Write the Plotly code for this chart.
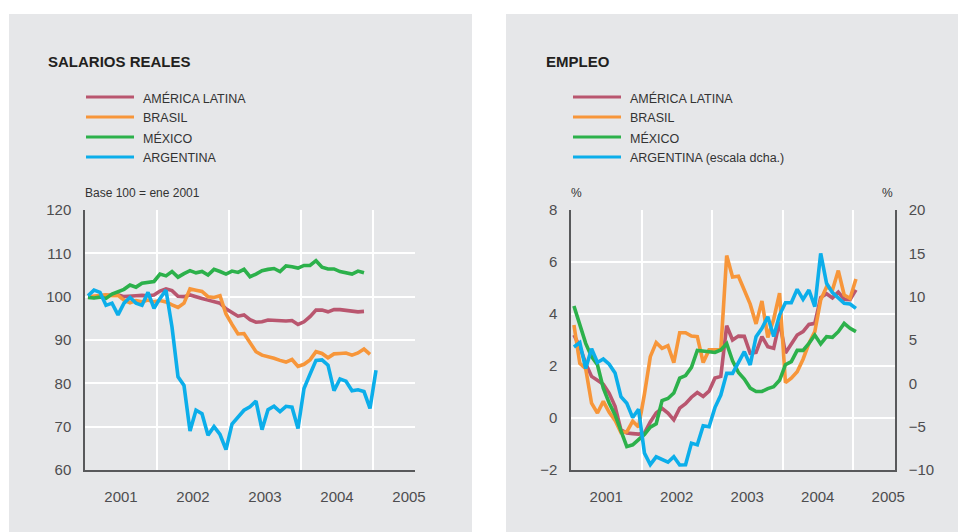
import plotly.graph_objects as go

# ---------------- DATA ----------------
# monthly series, first value = January 2001
sal_america_latina = [100, 99.8, 100.2, 100.2, 100.2, 100.4, 100, 100.2, 100.2, 100.3, 100.2, 100.4,
                      101.3, 101.8, 101.4, 100.1, 100, 100.4, 100.1, 99.6, 99.2, 98.9, 98.5, 97.2,
                      96.3, 95.5, 95.8, 94.7, 94.1, 94.2, 94.6, 94.5, 94.5, 94.4, 94.5, 93.6,
                      94.2, 95.4, 96.9, 96.9, 96.5, 97.0, 97.0, 96.8, 96.5, 96.5, 96.6]
sal_brasil = [100, 100.2, 100.4, 100.4, 100.2, 100.3, 99.2, 98.6, 99.1, 98.8, 99.2, 98.8,
              99.1, 98.8, 98.1, 97.5, 98.5, 101.8, 101.5, 101.2, 100, 99.8, 100.2, 96,
              93.6, 91.4, 91.5, 89.2, 87.3, 86.5, 86.2, 85.8, 85.3, 84.9, 85.5, 83.9,
              84.4, 85.4, 87.3, 86.9, 85.9, 86.8, 86.9, 87.0, 86.5, 87.0, 87.9, 86.7]
sal_mexico = [99.8, 99.7, 99.9, 99.6, 100.6, 101.2, 101.7, 102.7, 102.2, 103.1, 103.3, 103.5,
              105.2, 104.8, 105.8, 104.5, 105.3, 106.0, 105.5, 105.8, 105.0, 106.3, 105.8, 105.2,
              105.9, 105.6, 106.3, 104.6, 105.2, 106.0, 106.3, 106.5, 105.8, 107.1, 106.9, 106.6,
              107.2, 107.2, 108.3, 106.8, 106.4, 106.4, 105.8, 105.6, 105.2, 105.9, 105.5]
sal_argentina = [100.2, 101.5, 101, 98, 98.5, 95.8, 98.5, 99.8, 98.5, 98, 101, 97.3,
                 99.6, 101.5, 93, 81.5, 79.5, 69, 73.8, 73, 68, 70, 68.2, 64.7,
                 70.6, 72.3, 73.8, 74.6, 75.9, 69.3, 73.9, 74.7, 73.5, 74.7, 74.5, 69.6,
                 78.8, 82.1, 85.3, 85.4, 84.2, 78.3, 81, 80.5, 78.3, 78.5, 78.1, 74.2, 83]

emp_america_latina = [3.19, 2.74, 2.1, 1.6, 1.45, 1.3, 0.95, 0.45, -0.46, -0.58, -0.6, -0.62,
                      -0.58, -0.15, 0.19, 0.37, 0.19, -0.07, 0.38, 0.55, 0.8, 0.98, 0.83, 1.03,
                      1.54, 1.6, 3.55, 3.0, 3.15, 3.14, 2.49, 2.52, 3.13, 2.74, 2.68, 3.7,
                      2.5, 2.84, 3.19, 3.32, 3.6, 3.64, 4.63, 4.78, 4.62, 4.84, 4.57, 4.55, 4.93]
emp_brasil = [3.58, 2.1, 1.9, 0.57, 0.19, 0.64, 0.22, -0.09, -0.56, -0.53, -0.12, -0.35,
              0.92, 2.36, 2.9, 2.68, 2.78, 2.13, 3.28, 3.28, 3.15, 3.13, 2.13, 2.62,
              2.62, 2.62, 6.25, 5.42, 5.45, 4.92, 4.38, 3.62, 4.5, 3.1, 3.8, 4.8,
              1.36, 1.53, 1.78, 2.26, 2.87, 3.32, 4.54, 5.05, 4.92, 5.67, 4.73, 4.6, 5.35]
emp_mexico = [4.31, 3.64, 2.87, 2.36, 2.05, 1.15, 0.58, 0.12, -0.45, -1.1, -1.03, -0.81,
              -0.63, -0.35, -0.22, 0.67, 0.75, 0.96, 1.53, 1.63, 1.95, 2.6, 2.56, 2.55,
              2.52, 2.62, 2.86, 2.2, 1.75, 1.5, 1.15, 1.02, 1.02, 1.13, 1.2, 1.45,
              2.05, 2.17, 2.6, 2.6, 2.87, 3.19, 2.85, 3.13, 3.1, 3.32, 3.64, 3.45, 3.32]
emp_argentina = [4.2, 4.7, 1.7, 4.0, 2.4, 2.8, 2.2, 1.2, -1.54, -2.3, -3.95, -3.0,
                 -8.05, -9.38, -8.48, -8.77, -9.1, -8.46, -9.42, -9.4, -6.9, -7.1, -4.9, -5.0,
                 -2.8, -1.35, 1.15, 1.15, 2.35, 3.65, 2.12, 5.38, 6.35, 7.69, 5.4, 7.88,
                 9.3, 9.3, 10.85, 9.69, 10.77, 8.85, 15.0, 11.54, 10.46, 9.81, 9.23, 9.15, 8.65]

series_names = ["AMÉRICA LATINA", "BRASIL", "MÉXICO", "ARGENTINA"]
series_names_emp = ["AMÉRICA LATINA", "BRASIL", "MÉXICO", "ARGENTINA (escala dcha.)"]
year_labels = ["2001", "2002", "2003", "2004", "2005"]
sal_yticks = [60, 70, 80, 90, 100, 110, 120]
emp_yticks = [-2, 0, 2, 4, 6, 8]
emp_y2ticks = [-10, -5, 0, 5, 10, 15, 20]

# ---------------- STYLE ----------------
W, H = 958, 532
COLORS = ["#b9566f", "#f7963a", "#2cb14b", "#0caeea"]
PANEL = "#e6e7e9"
AXC = "#58595b"
TXT = "#333333"
TICK = "#4d4d4f"
FONT = "Liberation Sans, Arial, Helvetica, sans-serif"
LW = 3.6


def px(x):
    return x / W


def py(y):
    return 1 - y / H


def months(n):
    return [2001 + (m + 0.5) / 12 for m in range(n)]


fig = go.Figure()

sal = [sal_america_latina, sal_brasil, sal_mexico, sal_argentina]
for name, vals, c in zip(series_names, sal, COLORS):
    fig.add_trace(go.Scatter(x=months(len(vals)), y=vals, mode="lines", name=name,
                             line=dict(color=c, width=LW), xaxis="x", yaxis="y",
                             showlegend=False))

emp = [emp_america_latina, emp_brasil, emp_mexico]
for name, vals, c in zip(series_names_emp[:3], emp, COLORS[:3]):
    fig.add_trace(go.Scatter(x=months(len(vals)), y=vals, mode="lines", name=name,
                             line=dict(color=c, width=LW), xaxis="x2", yaxis="y2",
                             showlegend=False))
fig.add_trace(go.Scatter(x=months(len(emp_argentina)), y=emp_argentina, mode="lines",
                         name=series_names_emp[3], line=dict(color=COLORS[3], width=LW),
                         xaxis="x2", yaxis="y3", showlegend=False))

ydom = [py(470), py(210)]
year_mid = [2001.5 + i for i in range(len(year_labels))]
year_bounds = [2002, 2003, 2004, 2005]

xcommon = dict(tickmode="array", tickvals=year_mid, ticktext=year_labels, showgrid=False,
               zeroline=False, showline=True, linecolor=AXC, linewidth=1.5, ticks="",
               automargin=False,
               ticklabelstandoff=12, tickfont=dict(size=15, color=TICK, family=FONT),
               minor=dict(tickmode="array", tickvals=year_bounds, showgrid=True,
                          gridcolor="white", gridwidth=2, ticks=""))
ycommon = dict(showgrid=True, gridcolor="white", gridwidth=2, zeroline=False, showline=True,
               linecolor=AXC, linewidth=1.5, ticks="", ticklabelstandoff=9, automargin=False,
               tickfont=dict(size=15, color=TICK, family=FONT))

fig.update_layout(
    width=W, height=H, autosize=False,
    margin=dict(l=0, r=0, t=0, b=0, pad=0, autoexpand=False),
    paper_bgcolor="white", plot_bgcolor=PANEL, showlegend=False,
    font=dict(family=FONT, color=TXT),
    xaxis=dict(domain=[px(85), px(415)], range=[2001, 2001 + 330 / 72], anchor="y", **xcommon),
    yaxis=dict(domain=ydom, range=[60, 120], tickvals=sal_yticks, anchor="x", **ycommon),
    xaxis2=dict(domain=[px(571), px(895)], range=[2001, 2001 + 324 / 70.5], anchor="y2",
                **xcommon),
    yaxis2=dict(domain=ydom, range=[-2, 8], tickvals=emp_yticks, anchor="x2", **ycommon),
    yaxis3=dict(range=[-10, 20], tickvals=emp_y2ticks, overlaying="y2", side="right",
                anchor="x2", showgrid=False, zeroline=False, showline=True, linecolor=AXC,
                linewidth=1.5, ticks="", ticklabelstandoff=9, automargin=False,
                tickfont=dict(size=15, color=TICK, family=FONT)),
)

shapes = [
    dict(type="rect", xref="paper", yref="paper", x0=px(9), x1=px(958), y0=0, y1=py(14),
         fillcolor=PANEL, line=dict(width=0), layer="below"),
    dict(type="rect", xref="paper", yref="paper", x0=px(472), x1=px(506), y0=0, y1=1,
         fillcolor="white", line=dict(width=0), layer="below"),
]
annotations = [
    dict(text="SALARIOS REALES", x=px(46), y=py(61), xref="paper", yref="paper",
         xanchor="left", yanchor="middle", showarrow=False,
         font=dict(size=15, color="#231f20", family=FONT, weight="bold")),
    dict(text="EMPLEO", x=px(544), y=py(61), xref="paper", yref="paper",
         xanchor="left", yanchor="middle", showarrow=False,
         font=dict(size=15, color="#231f20", family=FONT, weight="bold")),
    dict(text="Base 100 = ene 2001", x=px(83), y=py(193), xref="paper", yref="paper",
         xanchor="left", yanchor="middle", showarrow=False,
         font=dict(size=12, color=TXT, family=FONT)),
    dict(text="%", x=px(576), y=py(193), xref="paper", yref="paper",
         xanchor="center", yanchor="middle", showarrow=False,
         font=dict(size=12, color=TXT, family=FONT)),
    dict(text="%", x=px(887), y=py(193), xref="paper", yref="paper",
         xanchor="center", yanchor="middle", showarrow=False,
         font=dict(size=12, color=TXT, family=FONT)),
]
leg_y = [97, 117, 137, 157]
for names, lx0, lx1, tx in [(series_names, 86, 134, 141), (series_names_emp, 573, 621, 628)]:
    for name, c, yy in zip(names, COLORS, leg_y):
        shapes.append(dict(type="line", xref="paper", yref="paper", x0=px(lx0), x1=px(lx1),
                           y0=py(yy), y1=py(yy), line=dict(color=c, width=3)))
        annotations.append(dict(text=name, x=px(tx), y=py(yy + 1), xref="paper", yref="paper",
                                xanchor="left", yanchor="middle", showarrow=False,
                                font=dict(size=12.5, color=TXT, family=FONT)))

fig.update_layout(shapes=shapes, annotations=annotations)
fig.write_html(
    "out.html",
    config={"displayModeBar": False},
    post_script=(
        "document.body.style.margin='0';"
        "var d=document.getElementById('{plot_id}');"
        "d.style.position='fixed';d.style.top='0px';d.style.left='0px';"
    ),
)
